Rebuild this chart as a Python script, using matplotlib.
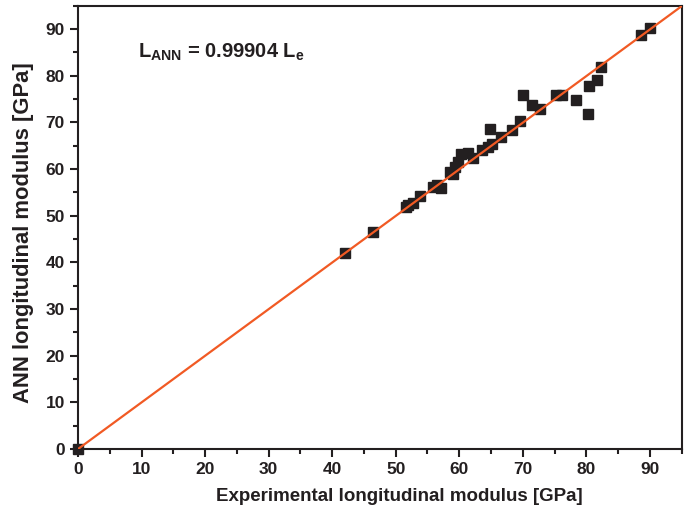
import matplotlib
matplotlib.use("Agg")
import matplotlib.pyplot as plt
from matplotlib.ticker import MultipleLocator
from matplotlib import font_manager

names = {f.name for f in font_manager.fontManager.ttflist}
FAM = "Liberation Sans Narrow" if "Liberation Sans Narrow" in names else "Liberation Sans"
plt.rcParams['font.family'] = [FAM, 'DejaVu Sans']
plt.rcParams['mathtext.fontset'] = 'custom'
plt.rcParams['mathtext.bf'] = FAM + ':bold'
plt.rcParams['mathtext.rm'] = FAM

experimental = [0, 42.0, 46.5, 51.6, 52.0, 52.7, 53.8, 55.9, 56.5, 57.2, 58.5, 59.0, 59.3,
                59.8, 60.2, 61.4, 62.2, 63.5, 64.5, 64.8, 65.2, 66.6, 68.3, 69.6, 70.1,
                71.5, 72.7, 75.3, 76.1, 78.3, 80.3, 80.4, 81.6, 82.3, 88.6, 90.0]
ann = [0, 42.0, 46.5, 51.8, 52.2, 52.7, 54.3, 56.1, 56.5, 56.0, 59.4, 59.0, 60.4,
       61.5, 63.2, 63.4, 62.3, 64.0, 64.7, 68.5, 65.4, 66.8, 68.3, 70.4, 75.9,
       73.8, 72.8, 75.8, 75.8, 74.8, 71.7, 77.7, 79.1, 81.8, 88.7, 90.3]
slope = 0.99904
line_x = [0, 95]

fig = plt.figure(figsize=(6.86, 5.2), dpi=100)
ax = fig.add_axes([0.1137, 0.1365, 0.880, 0.8525])

ax.plot(experimental, ann, 's', color='#231f20', markersize=7.5, zorder=2, clip_on=False)
ax.plot(line_x, [slope * v for v in line_x], color='#f15a24', lw=1.6, zorder=3)

ax.set_xlim(0, 95)
ax.set_ylim(0, 95)
ax.xaxis.set_major_locator(MultipleLocator(10))
ax.xaxis.set_minor_locator(MultipleLocator(5))
ax.yaxis.set_major_locator(MultipleLocator(10))
ax.yaxis.set_minor_locator(MultipleLocator(5))
ax.tick_params(which='both', direction='out', width=1.5, colors='#231f20')
ax.tick_params(which='major', length=6, labelsize=12.5)
ax.tick_params(which='minor', length=3.5)
for lab in ax.get_xticklabels() + ax.get_yticklabels():
    lab.set_fontweight('bold')
for s in ax.spines.values():
    s.set_linewidth(1.5)
    s.set_color('#231f20')

ax.set_xlabel('Experimental longitudinal modulus [GPa]', fontsize=13.5, fontweight='bold',
              color='#231f20', va='center')
ax.set_ylabel('ANN longitudinal modulus [GPa]', fontsize=15.8, fontweight='bold',
              color='#231f20', va='center')
ax.xaxis.set_label_coords(0.533, -0.108)
ax.yaxis.set_label_coords(-0.091, 0.4876)

ax.text(9.4, 85, r'$\mathbf{L_{ANN}}$' + ' = 0.99904 ' + r'$\mathbf{L_{e}}$',
        fontsize=14.5, fontweight='bold', color='#231f20', va='center', ha='left')

fig.savefig('out.png', dpi=100)
